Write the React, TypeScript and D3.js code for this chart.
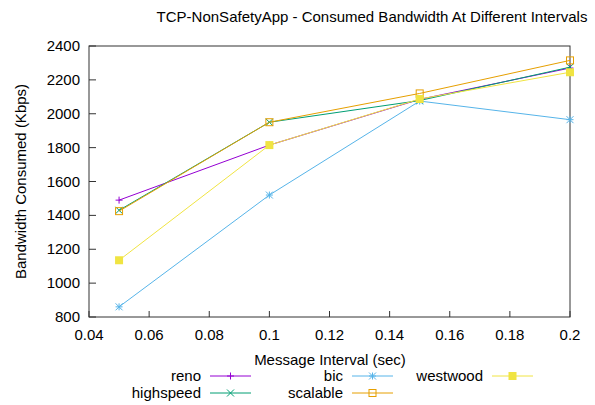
import React from "react";
import * as d3 from "d3";

const intervals = [0.05, 0.1, 0.15, 0.2];
const reno = [1490, 1815, 2085, 2270];
const highspeed = [1430, 1950, 2078, 2275];
const bic = [860, 1520, 2075, 1965];
const scalable = [1425, 1950, 2120, 2315];
const westwood = [1135, 1815, 2087, 2245];
const xTicks = [0.04, 0.06, 0.08, 0.1, 0.12, 0.14, 0.16, 0.18, 0.2];
const yTicks = [800, 1000, 1200, 1400, 1600, 1800, 2000, 2200, 2400];

const series = [
  { name: "reno", values: reno, color: "#9400d3", marker: "plus" },
  { name: "bic", values: bic, color: "#56b4e9", marker: "star" },
  { name: "westwood", values: westwood, color: "#f0e442", marker: "fsquare" },
  { name: "highspeed", values: highspeed, color: "#009e73", marker: "cross" },
  { name: "scalable", values: scalable, color: "#e69f00", marker: "osquare" },
];
const drawOrder = ["reno", "highspeed", "bic", "scalable", "westwood"];

const W = 595, H = 405;
const L = 89, R = 570, T = 46, B = 317;
const font = "'Liberation Sans', Arial, sans-serif";

function Marker({ type, x, y, color }: { type: string; x: number; y: number; color: string }) {
  const s = 3.5;
  switch (type) {
    case "plus":
      return <path d={`M${x - s},${y}H${x + s}M${x},${y - s}V${y + s}`} stroke={color} strokeWidth={1} fill="none" />;
    case "cross":
      return <path d={`M${x - s},${y - s}L${x + s},${y + s}M${x - s},${y + s}L${x + s},${y - s}`} stroke={color} strokeWidth={1} fill="none" />;
    case "star":
      return <path d={`M${x - s},${y}H${x + s}M${x},${y - s}V${y + s}M${x - s},${y - s}L${x + s},${y + s}M${x - s},${y + s}L${x + s},${y - s}`} stroke={color} strokeWidth={1} fill="none" />;
    case "osquare":
      return <rect x={x - s} y={y - s} width={2 * s} height={2 * s} stroke={color} strokeWidth={1} fill="none" />;
    case "fsquare":
      return <rect x={x - s - 0.5} y={y - s - 0.5} width={2 * s + 1} height={2 * s + 1} fill={color} />;
  }
  return null;
}

export default function App() {
  const x = d3.scaleLinear().domain([0.04, 0.2]).range([L, R]);
  const y = d3.scaleLinear().domain([800, 2400]).range([B, T]);
  const line = d3.line<number>().x((_, i) => x(intervals[i])).y((v) => y(v));
  const legendRows = [376, 393];
  const legendCols = [201, 343, 483];

  return (
    <svg width={W} height={H} style={{ position: "absolute", left: 0, top: 0, background: "#fff" }} fontFamily={font}>
      <rect x={0} y={0} width={W} height={H} fill="#fff" />
      <text x={372} y={22} textAnchor="middle" fontSize={15} fill="#000">
        TCP-NonSafetyApp - Consumed Bandwidth At Different Intervals
      </text>
      {yTicks.map((t) => (
        <g key={"y" + t}>
          <line x1={L} x2={L + 7} y1={y(t)} y2={y(t)} stroke="#333" strokeWidth={1} />
          <text x={80} y={y(t) + 5} textAnchor="end" fontSize={15} fill="#000">{t}</text>
        </g>
      ))}
      {xTicks.map((t) => (
        <g key={"x" + t}>
          <line x1={x(t)} x2={x(t)} y1={B} y2={B - 6} stroke="#333" strokeWidth={1} />
          <text x={x(t)} y={340} textAnchor="middle" fontSize={15} fill="#000">{d3.format("")(+t.toFixed(2))}</text>
        </g>
      ))}
      <rect x={L} y={T} width={R - L} height={B - T} fill="none" stroke="#333" strokeWidth={1} />
      <text transform={`translate(26,${(T + B) / 2}) rotate(-90)`} textAnchor="middle" fontSize={15} fill="#000">
        Bandwidth Consumed (Kbps)
      </text>
      <text x={330} y={365} textAnchor="middle" fontSize={15} fill="#000">Message Interval (sec)</text>
      {drawOrder.map((n) => {
        const s = series.find((d) => d.name === n)!;
        return (
          <g key={s.name}>
            <path d={line(s.values) || ""} fill="none" stroke={s.color} strokeWidth={1} />
            {s.values.map((v, i) => (
              <Marker key={i} type={s.marker} x={x(intervals[i])} y={y(v)} color={s.color} />
            ))}
          </g>
        );
      })}
      {series.map((s, i) => {
        const row = Math.floor(i / 3);
        const col = i % 3;
        const tx = legendCols[col];
        const ly = legendRows[row];
        return (
          <g key={"leg" + s.name}>
            <text x={tx} y={ly + 5} textAnchor="end" fontSize={15} fill="#000">{s.name}</text>
            <line x1={tx + 9} x2={tx + 50} y1={ly} y2={ly} stroke={s.color} strokeWidth={1} />
            <Marker type={s.marker} x={tx + 29.5} y={ly} color={s.color} />
          </g>
        );
      })}
    </svg>
  );
}
